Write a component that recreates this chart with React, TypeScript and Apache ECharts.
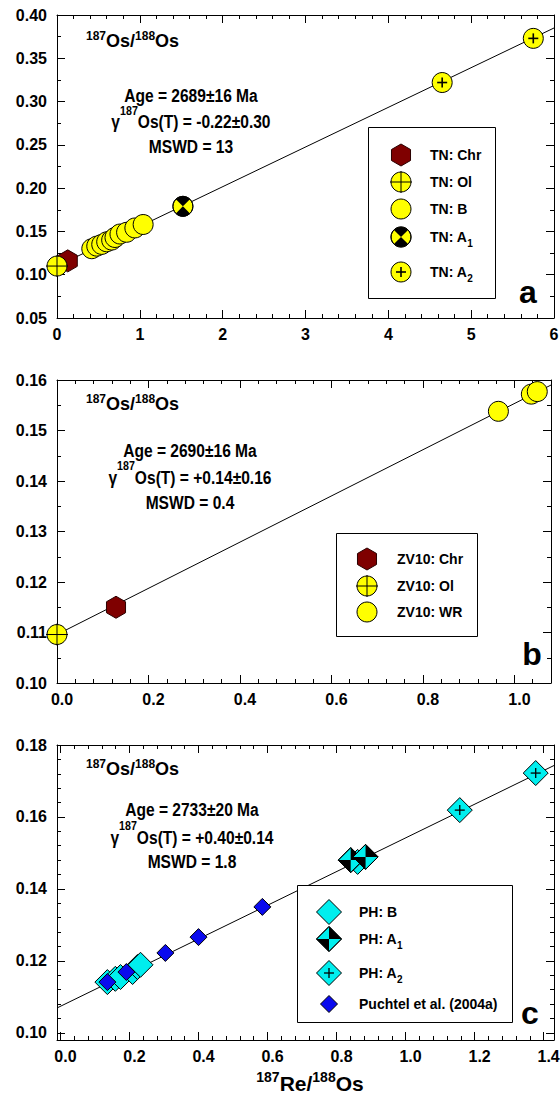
import React, { useEffect, useRef } from 'react';
import * as echarts from 'echarts';

const FONT = '"Liberation Sans", Arial, Helvetica, sans-serif';

// ---------------- Panel a : TN ----------------
const aXTicks = [0, 1, 2, 3, 4, 5, 6];
const aXMinor = [0.2, 0.4, 0.6, 0.8, 1.2, 1.4, 1.6, 1.8, 2.2, 2.4, 2.6, 2.8, 3.2, 3.4, 3.6, 3.8, 4.2, 4.4, 4.6, 4.8, 5.2, 5.4, 5.6, 5.8];
const aYTicks = [0.05, 0.1, 0.15, 0.2, 0.25, 0.3, 0.35, 0.4];
const aYMinor = [0.075, 0.125, 0.175, 0.225, 0.275, 0.325, 0.375];
const aChr = [[0.13, 0.116]];
const aOl = [[0.0, 0.110]];
const aB = [[0.42, 0.130], [0.48, 0.133], [0.54, 0.135], [0.60, 0.138], [0.66, 0.140], [0.70, 0.143], [0.76, 0.147], [0.84, 0.149], [0.94, 0.154], [1.04, 0.158]];
const aA1 = [[1.52, 0.179]];
const aA2 = [[4.65, 0.322], [5.75, 0.373]];
const aIsochron = [[0, 0.110], [6, 0.385]];
const aStats = ['Age = 2689±16 Ma', 'Os(T) = -0.22±0.30', 'MSWD = 13'];

// ---------------- Panel b : ZV10 ----------------
const bXTicks = [0, 0.2, 0.4, 0.6, 0.8, 1.0];
const bXMinor = [0.04, 0.08, 0.12, 0.16, 0.24, 0.28, 0.32, 0.36, 0.44, 0.48, 0.52, 0.56, 0.64, 0.68, 0.72, 0.76, 0.84, 0.88, 0.92, 0.96, 1.04, 1.08];
const bYTicks = [0.1, 0.11, 0.12, 0.13, 0.14, 0.15, 0.16];
const bYMinor = [0.105, 0.115, 0.125, 0.135, 0.145, 0.155];
const bChr = [[0.129, 0.1150]];
const bOl = [[0.0, 0.1096]];
const bWR = [[0.965, 0.1538], [1.037, 0.1572], [1.05, 0.1577]];
const bIsochron = [[0, 0.1096], [1.08, 0.1590]];
const bStats = ['Age = 2690±16 Ma', 'Os(T) = +0.14±0.16', 'MSWD = 0.4'];

// ---------------- Panel c : PH ----------------
const cXTicks = [0, 0.2, 0.4, 0.6, 0.8, 1.0, 1.2, 1.4];
const cXMinor = [0.04, 0.08, 0.12, 0.16, 0.24, 0.28, 0.32, 0.36, 0.44, 0.48, 0.52, 0.56, 0.64, 0.68, 0.72, 0.76, 0.84, 0.88, 0.92, 0.96, 1.04, 1.08, 1.12, 1.16, 1.24, 1.28, 1.32, 1.36];
const cYTicks = [0.1, 0.12, 0.14, 0.16, 0.18];
const cYMinor = [0.104, 0.108, 0.112, 0.116, 0.124, 0.128, 0.132, 0.136, 0.144, 0.148, 0.152, 0.156, 0.164, 0.168, 0.172, 0.176];
const cB = [[0.136, 0.1141], [0.159, 0.1150], [0.174, 0.1155], [0.209, 0.1169], [0.223, 0.1183], [0.232, 0.1189], [0.861, 0.1475]];
const cA1 = [[0.841, 0.1480], [0.884, 0.1489]];
const cA2 = [[1.157, 0.1619], [1.377, 0.1722]];
const cPuchtel = [[0.136, 0.1141], [0.191, 0.1169], [0.304, 0.1222], [0.40, 0.1266], [0.585, 0.1350]];
const cIsochron = [[-0.01, 0.1069], [1.43, 0.1743]];
const cStats = ['Age = 2733±20 Ma', 'Os(T) = +0.40±0.14', 'MSWD = 1.8'];

// ---------------- helpers ----------------
let ctx: CanvasRenderingContext2D | null = null;
function tw(t: string, size: number) {
  if (!ctx) ctx = document.createElement('canvas').getContext('2d');
  ctx!.font = `bold ${size}px ${FONT}`;
  return ctx!.measureText(t).width;
}

const YEL = '#ffff00';
const CYAN = '#00eeee';
const BLUE = '#0a0aee';

function shp(kind: string): any[] {
  const st = { stroke: '#000', lineWidth: 1 };
  const circ = (r: number, fill: string) => ({ type: 'circle', shape: { cx: 0, cy: 0, r }, style: { fill, ...st } });
  const ln = (x1: number, y1: number, x2: number, y2: number, w = 1) => ({ type: 'line', shape: { x1, y1, x2, y2 }, style: { stroke: '#000', lineWidth: w } });
  const dia = (s: number, fill: string) => ({ type: 'polygon', shape: { points: [[0, -s], [s, 0], [0, s], [-s, 0]] }, style: { fill, ...st } });
  const R = 10;
  const S = 12.5;
  switch (kind) {
    case 'hex': {
      const r = 11, w = r * Math.cos(Math.PI / 6);
      return [{ type: 'polygon', shape: { points: [[0, -r], [w, -r / 2], [w, r / 2], [0, r], [-w, r / 2], [-w, -r / 2]] }, style: { fill: '#7f0000', stroke: '#2a0000', lineWidth: 1 } }];
    }
    case 'circ':
      return [circ(R, YEL)];
    case 'ol':
      return [circ(R, YEL), ln(-R - 1, 0, R + 1, 0), ln(0, -R - 1, 0, R + 1)];
    case 'a1':
      return [
        circ(R, YEL),
        { type: 'sector', shape: { cx: 0, cy: 0, r0: 0, r: R, startAngle: -Math.PI * 0.75, endAngle: -Math.PI * 0.25, clockwise: true }, style: { fill: '#000' } },
        { type: 'sector', shape: { cx: 0, cy: 0, r0: 0, r: R, startAngle: Math.PI * 0.25, endAngle: Math.PI * 0.75, clockwise: true }, style: { fill: '#000' } },
        { type: 'circle', shape: { cx: 0, cy: 0, r: R }, style: { fill: 'transparent', stroke: '#000', lineWidth: 1 } },
      ];
    case 'a2':
      return [circ(R, YEL), ln(-5, 0, 5, 0, 1.6), ln(0, -5, 0, 5, 1.6)];
    case 'dB':
      return [dia(S, CYAN)];
    case 'dA1':
      return [
        dia(S, CYAN),
        { type: 'polygon', shape: { points: [[0, -S], [S, 0], [0, 0]] }, style: { fill: '#000' } },
        { type: 'polygon', shape: { points: [[0, S], [-S, 0], [0, 0]] }, style: { fill: '#000' } },
        { type: 'polygon', shape: { points: [[0, -S], [S, 0], [0, S], [-S, 0]] }, style: { fill: 'transparent', stroke: '#000', lineWidth: 1 } },
      ];
    case 'dA2':
      return [dia(S, CYAN), ln(-5, 0, 5, 0, 1.3), ln(0, -5, 0, 5, 1.3)];
    case 'dP':
      return [dia(8.5, BLUE)];
  }
  return [];
}

type Part = { t: string; size: number; dy?: number };
function richLine(x: number, y: number, parts: Part[], align: 'left' | 'center', sx = 1): any {
  const widths = parts.map((p) => tw(p.t, p.size));
  const W = widths.reduce((a, b) => a + b, 0);
  let cx = align === 'center' ? -W / 2 : 0;
  const children = parts.map((p, i) => {
    const el = {
      type: 'text',
      x: cx,
      y: p.dy || 0,
      style: {
        text: p.t,
        font: `bold ${p.size}px ${FONT}`,
        fill: '#000',
        textAlign: 'left',
        textVerticalAlign: 'middle',
        align: 'left',
        verticalAlign: 'middle',
      },
    };
    cx += widths[i];
    return el;
  });
  return { type: 'group', x, y, scaleX: sx, children };
}

function setZ(el: any, z: number): any {
  el.z = z;
  if (el.children) el.children.forEach((c: any) => setZ(c, z));
  return el;
}

function axesFor(dim: 'x' | 'y', grid: number, min: number, max: number, majors: number[], minors: number[], fmt: (v: number) => string, margin: number, shift = 0) {
  const common: any = { gridIndex: grid, type: 'value', min, max, splitLine: { show: false }, scale: false };
  const lineOn = { show: true, onZero: false, lineStyle: { color: '#000', width: 1 } };
  const lineOff = { show: false, onZero: false };
  const tick = (vals: number[], len: number) => ({ show: true, inside: true, length: len, customValues: vals, lineStyle: { color: '#000', width: 1 } });
  const posA = dim === 'x' ? 'bottom' : 'left';
  const posB = dim === 'x' ? 'top' : 'right';
  return [
    {
      ...common,
      position: posA,
      axisLine: lineOn,
      axisTick: tick(majors, 8),
      axisLabel: { show: true, customValues: majors, formatter: fmt, margin, color: '#000', fontFamily: FONT, fontWeight: 'bold', fontSize: 16, padding: [0, 0, 0, shift] },
    },
    { ...common, position: posA, axisLine: lineOff, axisTick: tick(minors, 4), axisLabel: { show: false } },
    { ...common, position: posB, axisLine: lineOn, axisTick: tick(majors, 8), axisLabel: { show: false } },
    { ...common, position: posB, axisLine: lineOff, axisTick: tick(minors, 4), axisLabel: { show: false } },
  ];
}

function markers(grid: number, kind: string, data: number[][]) {
  return {
    type: 'custom',
    xAxisIndex: grid * 4,
    yAxisIndex: grid * 4,
    data,
    silent: true,
    clip: false,
    z: 3,
    renderItem: (_params: any, api: any) => {
      const p = api.coord([api.value(0), api.value(1)]);
      return { type: 'group', x: p[0], y: p[1], children: shp(kind) };
    },
  };
}

function isochron(grid: number, data: number[][]) {
  return {
    type: 'line',
    xAxisIndex: grid * 4,
    yAxisIndex: grid * 4,
    data,
    symbol: 'none',
    silent: true,
    z: 1,
    lineStyle: { color: '#000', width: 1 },
  };
}

const ANN = 19;
const SX = 0.82;

function annBlock(titleY: number, cx: number, ys: number[], stats: string[]) {
  return [
    richLine(86, titleY, [{ t: '187', size: 12, dy: -5 }, { t: 'Os/', size: 18 }, { t: '188', size: 12, dy: -5 }, { t: 'Os', size: 18 }], 'left', 1),
    richLine(cx, ys[0], [{ t: stats[0], size: ANN }], 'center', SX),
    richLine(cx, ys[1], [{ t: 'γ', size: ANN }, { t: '187', size: 13, dy: -11 }, { t: stats[1], size: ANN }], 'center', SX),
    richLine(cx, ys[2], [{ t: stats[2], size: ANN }], 'center', SX),
  ];
}

function legendBox(x: number, y: number, w: number, h: number, sxPos: number, txPos: number, rows: { kind: string; y: number; label: string; sub?: string }[]) {
  const els: any[] = [
    { type: 'rect', shape: { x: x + 0.5, y: y + 0.5, width: w, height: h }, style: { fill: '#fff', stroke: '#000', lineWidth: 1 } },
  ];
  rows.forEach((r) => {
    els.push({ type: 'group', x: sxPos, y: r.y, children: shp(r.kind) });
    const parts: Part[] = [{ t: r.label, size: 14 }];
    if (r.sub) parts.push({ t: r.sub, size: 10, dy: 6 });
    els.push(richLine(txPos, r.y, parts, 'left', 1));
  });
  return els;
}

function panelLetter(t: string, x: number, y: number) {
  return {
    type: 'text',
    x,
    y,
    style: { text: t, font: `bold 32px ${FONT}`, fill: '#000', textAlign: 'center', textVerticalAlign: 'middle', align: 'center', verticalAlign: 'middle' },
  };
}

export default function App() {
  const ref = useRef<HTMLDivElement>(null);
  useEffect(() => {
    if (!ref.current) return;
    const chart = echarts.init(ref.current, null, { renderer: 'svg', width: 560, height: 1102 });
    const f2 = (v: number) => v.toFixed(2);
    const f1 = (v: number) => v.toFixed(1);
    const f0 = (v: number) => String(Math.round(v));

    const elements: any[] = [
      ...annBlock(41, 191, [95.5, 121.5, 146], aStats),
      ...annBlock(404, 190, [450, 477, 502], bStats),
      ...annBlock(769, 192, [809.5, 837, 861], cStats),
      ...legendBox(368, 127, 127, 171, 401, 430, [
        { kind: 'hex', y: 155, label: 'TN: Chr' },
        { kind: 'ol', y: 182, label: 'TN: Ol' },
        { kind: 'circ', y: 209, label: 'TN: B' },
        { kind: 'a1', y: 237, label: 'TN: A', sub: '1' },
        { kind: 'a2', y: 272, label: 'TN: A', sub: '2' },
      ]),
      ...legendBox(336, 533, 141, 103, 367, 397, [
        { kind: 'hex', y: 559, label: 'ZV10: Chr' },
        { kind: 'ol', y: 586, label: 'ZV10: Ol' },
        { kind: 'circ', y: 612, label: 'ZV10: WR' },
      ]),
      ...legendBox(297, 885, 215, 137, 329, 359, [
        { kind: 'dB', y: 912, label: 'PH: B' },
        { kind: 'dA1', y: 939, label: 'PH: A', sub: '1' },
        { kind: 'dA2', y: 973, label: 'PH: A', sub: '2' },
        { kind: 'dP', y: 1004, label: 'Puchtel et al. (2004a)' },
      ]),
      panelLetter('a', 528, 292),
      panelLetter('b', 532, 654),
      panelLetter('c', 530, 1013),
      richLine(310, 1083, [{ t: '187', size: 14, dy: -6 }, { t: 'Re/', size: 21 }, { t: '188', size: 14, dy: -6 }, { t: 'Os', size: 21 }], 'center', 1),
    ].map((e) => setZ(e, 100));

    const option: any = {
      animation: false,
      backgroundColor: '#fff',
      grid: [
        { left: 57, top: 15, width: 497, height: 303, containLabel: false, outerBoundsMode: 'none' },
        { left: 57, top: 380, width: 494, height: 303, containLabel: false, outerBoundsMode: 'none' },
        { left: 57, top: 745, width: 497, height: 295, containLabel: false, outerBoundsMode: 'none' },
      ],
      xAxis: [
        ...axesFor('x', 0, 0, 6, aXTicks, aXMinor, f0, 8, 0),
        ...axesFor('x', 1, 0, 1.08, bXTicks, bXMinor, f1, 8, 10),
        ...axesFor('x', 2, -0.01, 1.43, cXTicks, cXMinor, f1, 8, 10),
      ],
      yAxis: [
        ...axesFor('y', 0, 0.05, 0.4, aYTicks, aYMinor, f2, 10),
        ...axesFor('y', 1, 0.1, 0.16, bYTicks, bYMinor, f2, 10),
        ...axesFor('y', 2, 0.098, 0.18, cYTicks, cYMinor, f2, 10),
      ],
      series: [
        isochron(0, aIsochron),
        markers(0, 'hex', aChr),
        markers(0, 'ol', aOl),
        markers(0, 'circ', aB),
        markers(0, 'a1', aA1),
        markers(0, 'a2', aA2),
        isochron(1, bIsochron),
        markers(1, 'hex', bChr),
        markers(1, 'ol', bOl),
        markers(1, 'circ', bWR),
        isochron(2, cIsochron),
        markers(2, 'dB', cB),
        markers(2, 'dA1', cA1),
        markers(2, 'dA2', cA2),
        markers(2, 'dP', cPuchtel),
      ],
      graphic: { elements },
    };
    chart.setOption(option);
    return () => chart.dispose();
  }, []);
  return <div ref={ref} style={{ position: 'absolute', left: 0, top: 0, width: 560, height: 1102, background: '#fff' }} />;
}
